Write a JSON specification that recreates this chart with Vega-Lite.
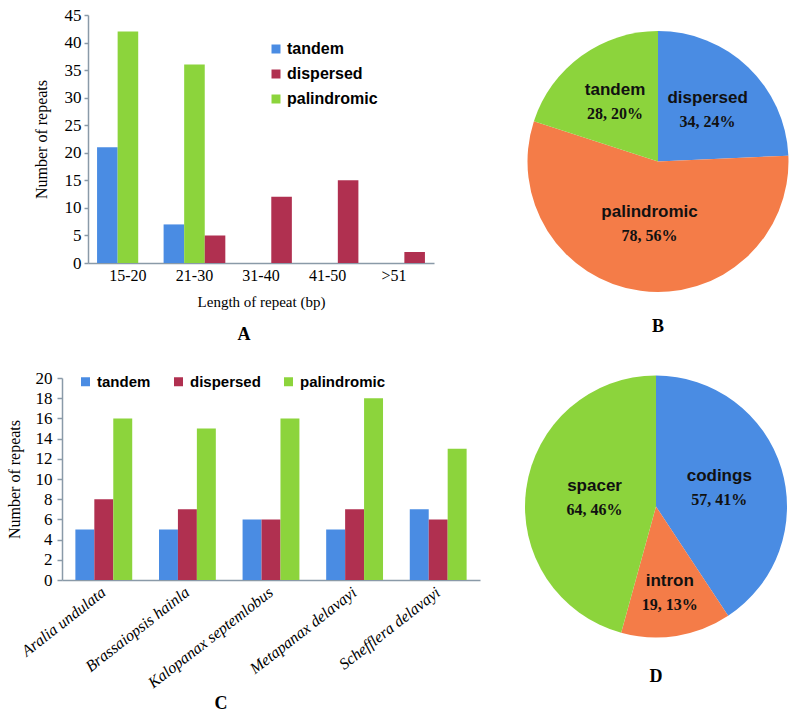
{
  "$schema": "https://vega.github.io/schema/vega-lite/v6.json",
  "background": "white",
  "padding": {"left": 6, "top": 6, "right": 0, "bottom": 0},
  "config": {
    "view": {"stroke": null},
    "axis": {
      "grid": false,
      "domainColor": "#8a9aa8",
      "domainWidth": 1.5,
      "tickColor": "#8a9aa8",
      "tickWidth": 1.5,
      "labelFont": "Liberation Serif",
      "titleFont": "Liberation Serif",
      "labelColor": "#000000",
      "titleColor": "#000000",
      "titleFontWeight": "normal"
    },
    "legend": {
      "labelFont": "Liberation Sans",
      "labelFontWeight": "bold",
      "labelColor": "#000000",
      "symbolType": "square",
      "symbolSize": 81,
      "symbolStrokeWidth": 0,
      "padding": 0
    },
    "title": {"font": "Liberation Serif", "fontWeight": "bold", "fontSize": 18, "color": "#000000"}
  },
  "spacing": 25,
  "resolve": {"scale": {"color": "independent", "xOffset": "independent", "theta": "independent", "radius": "independent"}, "legend": {"color": "independent"}},
  "vconcat": [
    {
      "spacing": 89,
      "resolve": {"scale": {"color": "independent", "xOffset": "independent", "theta": "independent", "radius": "independent"}, "legend": {"color": "independent"}},
      "hconcat": [
        {
          "spacing": 0,
          "bounds": "flush",
          "resolve": {"scale": {"color": "independent", "xOffset": "independent"}, "legend": {"color": "independent"}},
          "hconcat": [
            {"width": 26, "height": 20, "data": {"values": []}, "mark": {"type": "text"}, "encoding": {}},
            {
              "width": 346,
              "height": 248,
              "title": {"text": "A", "orient": "bottom", "offset": 17, "dx": -17},
              "data": {"values": [
                {"length": "15-20", "type": "tandem", "count": 21},
                {"length": "15-20", "type": "palindromic", "count": 42},
                {"length": "21-30", "type": "tandem", "count": 7},
                {"length": "21-30", "type": "palindromic", "count": 36},
                {"length": "21-30", "type": "dispersed", "count": 5},
                {"length": "31-40", "type": "dispersed", "count": 12},
                {"length": "41-50", "type": "dispersed", "count": 15},
                {"length": ">51", "type": "dispersed", "count": 2}
              ]},
              "mark": {"type": "bar"},
              "encoding": {
                "x": {
                  "field": "length", "type": "nominal",
                  "sort": ["15-20", "21-30", "31-40", "41-50", ">51"],
                  "scale": {"domain": ["15-20", "21-30", "31-40", "41-50", ">51"], "paddingInner": 0.06, "paddingOuter": 0.13},
                  "axis": {"title": "Length of repeat (bp)", "labelAngle": 0, "ticks": false, "tickSize": 0, "labelPadding": 4, "titlePadding": 11, "labelFontSize": 16, "titleFontSize": 15}
                },
                "xOffset": {"field": "type", "type": "nominal", "scale": {"domain": ["tandem", "palindromic", "dispersed"], "paddingOuter": 0.02}},
                "y": {
                  "field": "count", "type": "quantitative",
                  "scale": {"domain": [0, 45]},
                  "axis": {"title": "Number of repeats", "values": [0, 5, 10, 15, 20, 25, 30, 35, 40, 45], "tickSize": 4, "labelPadding": 3, "titlePadding": 15, "labelFontSize": 17, "titleFontSize": 16}
                },
                "color": {
                  "field": "type", "type": "nominal",
                  "scale": {"domain": ["tandem", "dispersed", "palindromic"], "range": ["#4a8ce3", "#b03050", "#8cd43c"]},
                  "legend": {"title": null, "orient": "none", "direction": "vertical", "legendX": 180, "legendY": 26, "labelFontSize": 16, "rowPadding": 9, "labelOffset": 3}
                }
              }
            }
          ]
        },
        {
          "width": 270,
          "height": 293,
          "title": {"text": "B", "orient": "bottom", "offset": 10},
          "data": {"values": [
            {"type": "dispersed", "count": 34, "label": "34, 24%"},
            {"type": "palindromic", "count": 78, "label": "78, 56%"},
            {"type": "tandem", "count": 28, "label": "28, 20%"}
          ]},
          "encoding": {
            "theta": {"field": "count", "type": "quantitative", "stack": true},
            "order": {"field": "type", "type": "ordinal", "sort": "ascending"}
          },
          "layer": [
            {
              "mark": {"type": "arc", "outerRadius": 130.5},
              "encoding": {"color": {"field": "type", "type": "nominal", "scale": {"domain": ["dispersed", "palindromic", "tandem"], "range": ["#4a8ce3", "#f47c48", "#8cd43c"]}, "legend": null}}
            },
            {
              "mark": {"type": "text", "dy": -12, "font": "Liberation Sans", "fontWeight": "bold", "fontSize": 17, "color": "#111111"},
              "encoding": {
                "text": {"field": "type", "type": "nominal"},
                "radius": {"field": "count", "type": "quantitative", "scale": {"type": "linear", "zero": false, "domain": [28, 78], "range": [73, 63]}}
              }
            },
            {
              "mark": {"type": "text", "dy": 12, "font": "Liberation Serif", "fontWeight": "bold", "fontSize": 16, "color": "#111111"},
              "encoding": {
                "text": {"field": "label", "type": "nominal"},
                "radius": {"field": "count", "type": "quantitative", "scale": {"type": "linear", "zero": false, "domain": [28, 78], "range": [73, 63]}}
              }
            }
          ]
        }
      ]
    },
    {
      "spacing": 41,
      "resolve": {"scale": {"color": "independent", "xOffset": "independent", "theta": "independent", "radius": "independent"}, "legend": {"color": "independent"}},
      "hconcat": [
        {
          "width": 418,
          "height": 202,
          "title": {"text": "C", "orient": "bottom", "offset": 4, "dx": -50},
          "data": {"values": [
            {"species": "Aralia undulata", "type": "tandem", "count": 5},
            {"species": "Aralia undulata", "type": "dispersed", "count": 8},
            {"species": "Aralia undulata", "type": "palindromic", "count": 16},
            {"species": "Brassaiopsis hainla", "type": "tandem", "count": 5},
            {"species": "Brassaiopsis hainla", "type": "dispersed", "count": 7},
            {"species": "Brassaiopsis hainla", "type": "palindromic", "count": 15},
            {"species": "Kalopanax septemlobus", "type": "tandem", "count": 6},
            {"species": "Kalopanax septemlobus", "type": "dispersed", "count": 6},
            {"species": "Kalopanax septemlobus", "type": "palindromic", "count": 16},
            {"species": "Metapanax delavayi", "type": "tandem", "count": 5},
            {"species": "Metapanax delavayi", "type": "dispersed", "count": 7},
            {"species": "Metapanax delavayi", "type": "palindromic", "count": 18},
            {"species": "Schefflera delavayi", "type": "tandem", "count": 7},
            {"species": "Schefflera delavayi", "type": "dispersed", "count": 6},
            {"species": "Schefflera delavayi", "type": "palindromic", "count": 13}
          ]},
          "mark": {"type": "bar"},
          "encoding": {
            "x": {
              "field": "species", "type": "nominal", "sort": null,
              "scale": {"paddingInner": 0.32, "paddingOuter": 0.16},
              "axis": {"title": null, "labelAngle": -38, "labelAlign": "right", "labelBaseline": "middle", "labelFontStyle": "italic", "labelFontSize": 16, "ticks": false, "tickSize": 0, "labelPadding": 10, "labelLimit": 300}
            },
            "xOffset": {"field": "type", "type": "nominal", "scale": {"domain": ["tandem", "dispersed", "palindromic"]}},
            "y": {
              "field": "count", "type": "quantitative",
              "scale": {"domain": [0, 20]},
              "axis": {"title": "Number of repeats", "values": [0, 2, 4, 6, 8, 10, 12, 14, 16, 18, 20], "tickSize": 5, "labelPadding": 5, "titlePadding": 13, "labelFontSize": 17, "titleFontSize": 16}
            },
            "color": {
              "field": "type", "type": "nominal",
              "scale": {"domain": ["tandem", "dispersed", "palindromic"], "range": ["#4a8ce3", "#b03050", "#8cd43c"]},
              "legend": {"title": null, "orient": "none", "direction": "horizontal", "legendX": 16, "legendY": -4, "labelFontSize": 15, "columnPadding": 20, "labelOffset": 4}
            }
          }
        },
        {
          "width": 270,
          "height": 257,
          "title": {"text": "D", "orient": "bottom", "offset": 30},
          "data": {"values": [
            {"type": "codings", "count": 57, "label": "57, 41%"},
            {"type": "intron", "count": 19, "label": "19, 13%"},
            {"type": "spacer", "count": 64, "label": "64, 46%"}
          ]},
          "encoding": {
            "theta": {"field": "count", "type": "quantitative", "stack": true},
            "order": {"field": "type", "type": "ordinal", "sort": "ascending"}
          },
          "layer": [
            {
              "mark": {"type": "arc", "outerRadius": 131},
              "encoding": {"color": {"field": "type", "type": "nominal", "scale": {"domain": ["codings", "intron", "spacer"], "range": ["#4a8ce3", "#f47c48", "#8cd43c"]}, "legend": null}}
            },
            {
              "mark": {"type": "text", "dy": -12, "font": "Liberation Sans", "fontWeight": "bold", "fontSize": 17, "color": "#111111"},
              "encoding": {
                "text": {"field": "type", "type": "nominal"},
                "radius": {"field": "count", "type": "quantitative", "scale": {"type": "linear", "zero": false, "domain": [19, 64], "range": [88, 62]}}
              }
            },
            {
              "mark": {"type": "text", "dy": 12, "font": "Liberation Serif", "fontWeight": "bold", "fontSize": 16, "color": "#111111"},
              "encoding": {
                "text": {"field": "label", "type": "nominal"},
                "radius": {"field": "count", "type": "quantitative", "scale": {"type": "linear", "zero": false, "domain": [19, 64], "range": [88, 62]}}
              }
            }
          ]
        }
      ]
    }
  ]
}
